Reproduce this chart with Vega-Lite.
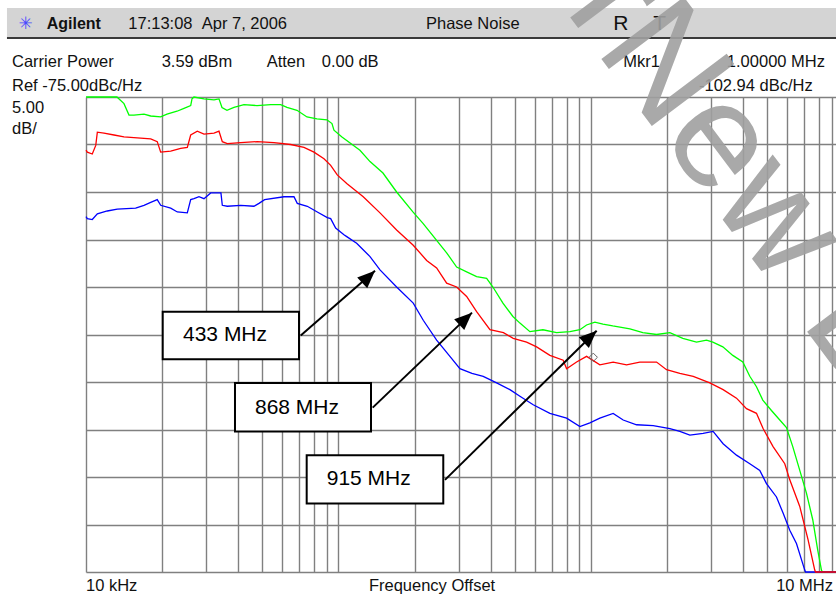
{
  "$schema": "https://vega.github.io/schema/vega-lite/v6.json",
  "width": 750,
  "height": 475,
  "autosize": {"type": "none"},
  "padding": {"left": 86, "top": 97, "right": 0, "bottom": 23},
  "background": "white",
  "config": {"view": {"stroke": null}, "font": "Liberation Sans"},
  "datasets": {
    "traces": [
      {"band": "915 MHz", "freq": 10000, "db": -75.0}, {"band": "915 MHz", "freq": 13260, "db": -75.0}, {"band": "915 MHz", "freq": 14140, "db": -75.7}, {"band": "915 MHz", "freq": 14800, "db": -76.9}, {"band": "915 MHz", "freq": 15490, "db": -76.9}, {"band": "915 MHz", "freq": 16970, "db": -76.8}, {"band": "915 MHz", "freq": 18040, "db": -77.0}, {"band": "915 MHz", "freq": 19760, "db": -77.1}, {"band": "915 MHz", "freq": 20930, "db": -76.8}, {"band": "915 MHz", "freq": 22930, "db": -76.5}, {"band": "915 MHz", "freq": 24440, "db": -76.2}, {"band": "915 MHz", "freq": 25980, "db": -75.9}, {"band": "915 MHz", "freq": 26290, "db": -75.2}, {"band": "915 MHz", "freq": 26770, "db": -75.0}, {"band": "915 MHz", "freq": 29330, "db": -75.2}, {"band": "915 MHz", "freq": 32130, "db": -75.3}, {"band": "915 MHz", "freq": 33630, "db": -75.2}, {"band": "915 MHz", "freq": 34560, "db": -76.1}, {"band": "915 MHz", "freq": 36170, "db": -76.4}, {"band": "915 MHz", "freq": 38550, "db": -76.1}, {"band": "915 MHz", "freq": 42230, "db": -75.8}, {"band": "915 MHz", "freq": 47560, "db": -75.9}, {"band": "915 MHz", "freq": 53890, "db": -75.8}, {"band": "915 MHz", "freq": 59020, "db": -75.8}, {"band": "915 MHz", "freq": 62510, "db": -76.1}, {"band": "915 MHz", "freq": 68480, "db": -76.4}, {"band": "915 MHz", "freq": 75020, "db": -77.1}, {"band": "915 MHz", "freq": 82180, "db": -77.3}, {"band": "915 MHz", "freq": 90020, "db": -77.4}, {"band": "915 MHz", "freq": 94220, "db": -77.8}, {"band": "915 MHz", "freq": 95950, "db": -78.5}, {"band": "915 MHz", "freq": 103200, "db": -79.2}, {"band": "915 MHz", "freq": 121600, "db": -80.6}, {"band": "915 MHz", "freq": 133300, "db": -81.8}, {"band": "915 MHz", "freq": 150000, "db": -83.0}, {"band": "915 MHz", "freq": 169900, "db": -85.0}, {"band": "915 MHz", "freq": 197100, "db": -87.1}, {"band": "915 MHz", "freq": 216100, "db": -88.3}, {"band": "915 MHz", "freq": 244700, "db": -90.1}, {"band": "915 MHz", "freq": 268100, "db": -91.4}, {"band": "915 MHz", "freq": 293700, "db": -92.9}, {"band": "915 MHz", "freq": 321700, "db": -93.4}, {"band": "915 MHz", "freq": 352400, "db": -93.9}, {"band": "915 MHz", "freq": 386100, "db": -94.1}, {"band": "915 MHz", "freq": 408800, "db": -95.0}, {"band": "915 MHz", "freq": 447900, "db": -96.7}, {"band": "915 MHz", "freq": 490600, "db": -98.1}, {"band": "915 MHz", "freq": 523000, "db": -98.8}, {"band": "915 MHz", "freq": 572900, "db": -99.7}, {"band": "915 MHz", "freq": 645000, "db": -99.5}, {"band": "915 MHz", "freq": 730700, "db": -99.8}, {"band": "915 MHz", "freq": 824900, "db": -99.7}, {"band": "915 MHz", "freq": 903700, "db": -99.5}, {"band": "915 MHz", "freq": 960500, "db": -99.0}, {"band": "915 MHz", "freq": 1036000, "db": -98.7}, {"band": "915 MHz", "freq": 1115000, "db": -98.9}, {"band": "915 MHz", "freq": 1220000, "db": -99.1}, {"band": "915 MHz", "freq": 1426000, "db": -99.4}, {"band": "915 MHz", "freq": 1604000, "db": -99.8}, {"band": "915 MHz", "freq": 1818000, "db": -100.0}, {"band": "915 MHz", "freq": 2053000, "db": -99.8}, {"band": "915 MHz", "freq": 2310000, "db": -100.4}, {"band": "915 MHz", "freq": 2618000, "db": -100.8}, {"band": "915 MHz", "freq": 2868000, "db": -100.6}, {"band": "915 MHz", "freq": 3037000, "db": -100.8}, {"band": "915 MHz", "freq": 3327000, "db": -101.3}, {"band": "915 MHz", "freq": 3644000, "db": -102.2}, {"band": "915 MHz", "freq": 3992000, "db": -102.9}, {"band": "915 MHz", "freq": 4255000, "db": -104.4}, {"band": "915 MHz", "freq": 4522000, "db": -105.5}, {"band": "915 MHz", "freq": 4790000, "db": -106.9}, {"band": "915 MHz", "freq": 5184000, "db": -108.0}, {"band": "915 MHz", "freq": 5593000, "db": -109.0}, {"band": "915 MHz", "freq": 5945000, "db": -109.8}, {"band": "915 MHz", "freq": 6296000, "db": -111.8}, {"band": "915 MHz", "freq": 6711000, "db": -114.3}, {"band": "915 MHz", "freq": 7133000, "db": -116.7}, {"band": "915 MHz", "freq": 7555000, "db": -119.5}, {"band": "915 MHz", "freq": 7906000, "db": -122.7}, {"band": "915 MHz", "freq": 8178000, "db": -124.8}, {"band": "915 MHz", "freq": 8250000, "db": -125.0}, {"band": "915 MHz", "freq": 10000000, "db": -125.0},
      {"band": "868 MHz", "freq": 10000, "db": -80.6}, {"band": "868 MHz", "freq": 10120, "db": -80.8}, {"band": "868 MHz", "freq": 10590, "db": -81.0}, {"band": "868 MHz", "freq": 10930, "db": -80.1}, {"band": "868 MHz", "freq": 11090, "db": -78.7}, {"band": "868 MHz", "freq": 11780, "db": -78.8}, {"band": "868 MHz", "freq": 12910, "db": -79.0}, {"band": "868 MHz", "freq": 14140, "db": -79.2}, {"band": "868 MHz", "freq": 15960, "db": -79.3}, {"band": "868 MHz", "freq": 18040, "db": -79.4}, {"band": "868 MHz", "freq": 19150, "db": -79.7}, {"band": "868 MHz", "freq": 19760, "db": -80.8}, {"band": "868 MHz", "freq": 21650, "db": -80.7}, {"band": "868 MHz", "freq": 23710, "db": -80.4}, {"band": "868 MHz", "freq": 25190, "db": -80.3}, {"band": "868 MHz", "freq": 25980, "db": -79.0}, {"band": "868 MHz", "freq": 27590, "db": -78.6}, {"band": "868 MHz", "freq": 29330, "db": -78.9}, {"band": "868 MHz", "freq": 32130, "db": -78.8}, {"band": "868 MHz", "freq": 33630, "db": -78.6}, {"band": "868 MHz", "freq": 34660, "db": -79.7}, {"band": "868 MHz", "freq": 36270, "db": -79.9}, {"band": "868 MHz", "freq": 40980, "db": -79.8}, {"band": "868 MHz", "freq": 47680, "db": -79.7}, {"band": "868 MHz", "freq": 55520, "db": -79.8}, {"band": "868 MHz", "freq": 64660, "db": -80.0}, {"band": "868 MHz", "freq": 72990, "db": -80.3}, {"band": "868 MHz", "freq": 79960, "db": -80.8}, {"band": "868 MHz", "freq": 87600, "db": -81.5}, {"band": "868 MHz", "freq": 93110, "db": -82.2}, {"band": "868 MHz", "freq": 98880, "db": -83.2}, {"band": "868 MHz", "freq": 107800, "db": -84.1}, {"band": "868 MHz", "freq": 125300, "db": -85.5}, {"band": "868 MHz", "freq": 146000, "db": -87.2}, {"band": "868 MHz", "freq": 169900, "db": -89.0}, {"band": "868 MHz", "freq": 197700, "db": -90.6}, {"band": "868 MHz", "freq": 223400, "db": -92.2}, {"band": "868 MHz", "freq": 244700, "db": -93.0}, {"band": "868 MHz", "freq": 268100, "db": -94.6}, {"band": "868 MHz", "freq": 293700, "db": -95.0}, {"band": "868 MHz", "freq": 321700, "db": -96.0}, {"band": "868 MHz", "freq": 352400, "db": -97.6}, {"band": "868 MHz", "freq": 397900, "db": -99.5}, {"band": "868 MHz", "freq": 450000, "db": -99.8}, {"band": "868 MHz", "freq": 491900, "db": -100.4}, {"band": "868 MHz", "freq": 555900, "db": -100.8}, {"band": "868 MHz", "freq": 609000, "db": -101.3}, {"band": "868 MHz", "freq": 687400, "db": -102.2}, {"band": "868 MHz", "freq": 776000, "db": -102.7}, {"band": "868 MHz", "freq": 800500, "db": -103.6}, {"band": "868 MHz", "freq": 876800, "db": -102.9}, {"band": "868 MHz", "freq": 960500, "db": -102.3}, {"band": "868 MHz", "freq": 1084000, "db": -103.2}, {"band": "868 MHz", "freq": 1224000, "db": -102.9}, {"band": "868 MHz", "freq": 1383000, "db": -103.2}, {"band": "868 MHz", "freq": 1561000, "db": -102.9}, {"band": "868 MHz", "freq": 1818000, "db": -102.9}, {"band": "868 MHz", "freq": 1992000, "db": -103.7}, {"band": "868 MHz", "freq": 2248000, "db": -104.1}, {"band": "868 MHz", "freq": 2540000, "db": -104.4}, {"band": "868 MHz", "freq": 2955000, "db": -105.1}, {"band": "868 MHz", "freq": 3336000, "db": -105.8}, {"band": "868 MHz", "freq": 3769000, "db": -106.7}, {"band": "868 MHz", "freq": 4129000, "db": -107.8}, {"band": "868 MHz", "freq": 4522000, "db": -108.3}, {"band": "868 MHz", "freq": 4803000, "db": -109.9}, {"band": "868 MHz", "freq": 5261000, "db": -111.8}, {"band": "868 MHz", "freq": 5853000, "db": -113.6}, {"band": "868 MHz", "freq": 6127000, "db": -115.3}, {"band": "868 MHz", "freq": 6711000, "db": -118.1}, {"band": "868 MHz", "freq": 7237000, "db": -121.6}, {"band": "868 MHz", "freq": 7693000, "db": -124.8}, {"band": "868 MHz", "freq": 7750000, "db": -125.0}, {"band": "868 MHz", "freq": 10000000, "db": -125.0},
      {"band": "433 MHz", "freq": 10000, "db": -87.6}, {"band": "433 MHz", "freq": 10120, "db": -87.8}, {"band": "433 MHz", "freq": 10590, "db": -87.9}, {"band": "433 MHz", "freq": 11090, "db": -87.3}, {"band": "433 MHz", "freq": 12140, "db": -87.0}, {"band": "433 MHz", "freq": 13300, "db": -86.8}, {"band": "433 MHz", "freq": 15730, "db": -86.7}, {"band": "433 MHz", "freq": 16970, "db": -86.4}, {"band": "433 MHz", "freq": 18040, "db": -86.1}, {"band": "433 MHz", "freq": 19150, "db": -85.8}, {"band": "433 MHz", "freq": 19760, "db": -86.4}, {"band": "433 MHz", "freq": 21650, "db": -86.7}, {"band": "433 MHz", "freq": 23000, "db": -87.1}, {"band": "433 MHz", "freq": 25190, "db": -87.2}, {"band": "433 MHz", "freq": 25980, "db": -85.8}, {"band": "433 MHz", "freq": 26770, "db": -85.7}, {"band": "433 MHz", "freq": 28020, "db": -85.5}, {"band": "433 MHz", "freq": 29330, "db": -85.7}, {"band": "433 MHz", "freq": 31180, "db": -85.1}, {"band": "433 MHz", "freq": 34230, "db": -85.1}, {"band": "433 MHz", "freq": 34660, "db": -86.4}, {"band": "433 MHz", "freq": 36270, "db": -86.5}, {"band": "433 MHz", "freq": 40980, "db": -86.4}, {"band": "433 MHz", "freq": 46270, "db": -86.5}, {"band": "433 MHz", "freq": 48420, "db": -86.2}, {"band": "433 MHz", "freq": 50990, "db": -85.8}, {"band": "433 MHz", "freq": 60820, "db": -85.5}, {"band": "433 MHz", "freq": 66630, "db": -85.5}, {"band": "433 MHz", "freq": 68680, "db": -86.2}, {"band": "433 MHz", "freq": 75240, "db": -86.5}, {"band": "433 MHz", "freq": 82420, "db": -87.1}, {"band": "433 MHz", "freq": 90290, "db": -87.7}, {"band": "433 MHz", "freq": 93110, "db": -87.8}, {"band": "433 MHz", "freq": 97450, "db": -88.8}, {"band": "433 MHz", "freq": 105100, "db": -89.5}, {"band": "433 MHz", "freq": 107800, "db": -89.7}, {"band": "433 MHz", "freq": 118000, "db": -90.4}, {"band": "433 MHz", "freq": 133300, "db": -91.8}, {"band": "433 MHz", "freq": 146000, "db": -93.2}, {"band": "433 MHz", "freq": 169900, "db": -95.0}, {"band": "433 MHz", "freq": 197700, "db": -96.7}, {"band": "433 MHz", "freq": 216600, "db": -98.5}, {"band": "433 MHz", "freq": 244700, "db": -100.6}, {"band": "433 MHz", "freq": 276200, "db": -102.3}, {"band": "433 MHz", "freq": 302600, "db": -103.6}, {"band": "433 MHz", "freq": 337700, "db": -104.1}, {"band": "433 MHz", "freq": 374200, "db": -104.4}, {"band": "433 MHz", "freq": 422900, "db": -105.1}, {"band": "433 MHz", "freq": 477400, "db": -105.8}, {"band": "433 MHz", "freq": 523000, "db": -106.5}, {"band": "433 MHz", "freq": 590400, "db": -107.4}, {"band": "433 MHz", "freq": 687400, "db": -108.3}, {"band": "433 MHz", "freq": 800500, "db": -108.8}, {"band": "433 MHz", "freq": 903700, "db": -109.7}, {"band": "433 MHz", "freq": 989800, "db": -109.3}, {"band": "433 MHz", "freq": 1084000, "db": -108.8}, {"band": "433 MHz", "freq": 1224000, "db": -108.3}, {"band": "433 MHz", "freq": 1341000, "db": -109.0}, {"band": "433 MHz", "freq": 1515000, "db": -109.5}, {"band": "433 MHz", "freq": 1763000, "db": -109.6}, {"band": "433 MHz", "freq": 2053000, "db": -109.9}, {"band": "433 MHz", "freq": 2248000, "db": -110.2}, {"band": "433 MHz", "freq": 2463000, "db": -110.6}, {"band": "433 MHz", "freq": 2780000, "db": -110.4}, {"band": "433 MHz", "freq": 3045000, "db": -110.2}, {"band": "433 MHz", "freq": 3336000, "db": -111.5}, {"band": "433 MHz", "freq": 3769000, "db": -112.7}, {"band": "433 MHz", "freq": 4255000, "db": -113.6}, {"band": "433 MHz", "freq": 4661000, "db": -114.3}, {"band": "433 MHz", "freq": 4954000, "db": -115.7}, {"band": "433 MHz", "freq": 5427000, "db": -117.1}, {"band": "433 MHz", "freq": 5764000, "db": -118.8}, {"band": "433 MHz", "freq": 6127000, "db": -120.6}, {"band": "433 MHz", "freq": 6512000, "db": -122.0}, {"band": "433 MHz", "freq": 7023000, "db": -124.8}, {"band": "433 MHz", "freq": 7080000, "db": -125.0}, {"band": "433 MHz", "freq": 10000000, "db": -125.0}
    ],
    "header_bar": [{"freq": 4864, "freq2": 9339000, "db": -65.63, "db2": -68.79}],
    "header_rule": [{"freq": 4864, "freq2": 9339000, "db": -68.79}],
    "brand": [{"text": "Agilent", "freq": 6990, "db": -67.79}],
    "notes_left": [
      {"text": "17:13:08\u00a0\u00a0Apr 7, 2006", "freq": 14710, "db": -67.79},
      {"text": "Phase Noise", "freq": 222100, "db": -67.79},
      {"text": "Carrier Power", "freq": 5092, "db": -71.84},
      {"text": "3.59 dBm", "freq": 19940, "db": -71.84},
      {"text": "Atten", "freq": 51950, "db": -71.84},
      {"text": "0.00 dB", "freq": 85810, "db": -71.84},
      {"text": "Mkr1", "freq": 1343000, "db": -71.84},
      {"text": "Ref -75.00dBc/Hz", "freq": 5092, "db": -74.37},
      {"text": "5.00", "freq": 5092, "db": -76.68},
      {"text": "dB/", "freq": 5092, "db": -78.89},
      {"text": "10 kHz", "freq": 10000, "db": -127.0}
    ],
    "notes_right": [
      {"text": "1.00000 MHz", "freq": 8448000, "db": -71.84},
      {"text": "-102.94 dBc/Hz", "freq": 7551000, "db": -74.37},
      {"text": "10 MHz", "freq": 9087000, "db": -127.0}
    ],
    "notes_center": [{"text": "Frequency Offset", "freq": 234600, "db": -127.0}],
    "status": [{"text": "R", "freq": 1226000, "db": -67.95}, {"text": "T", "freq": 1765000, "db": -67.95}],
    "logo": [{"text": "\u2733", "freq": 5761, "db": -67.84}],
    "callout_boxes": [
      {"band": "433 MHz", "freq": 20130, "freq2": 69760, "db": -97.6, "db2": -102.6},
      {"band": "868 MHz", "freq": 38910, "freq2": 134500, "db": -105.1, "db2": -110.2},
      {"band": "915 MHz", "freq": 74820, "freq2": 260000, "db": -112.7, "db2": -117.8}
    ],
    "callout_labels": [
      {"text": "433 MHz", "freq": 24220, "db": -100.1},
      {"text": "868 MHz", "freq": 46700, "db": -107.7},
      {"text": "915 MHz", "freq": 89820, "db": -115.2}
    ],
    "arrows": [
      {"band": "433 MHz", "freq": 70840, "db": -100.1, "freq2": 139500, "db2": -93.3},
      {"band": "868 MHz", "freq": 136600, "db": -107.7, "freq2": 337900, "db2": -97.7},
      {"band": "915 MHz", "freq": 264100, "db": -115.3, "freq2": 1053000, "db2": -99.6}
    ],
    "arrow_tips": [
      {"band": "433 MHz", "freq": 139500, "db": -93.3},
      {"band": "868 MHz", "freq": 337900, "db": -97.7},
      {"band": "915 MHz", "freq": 1053000, "db": -99.6}
    ],
    "marker": [{"name": "Mkr1", "freq": 1021000, "db": -102.4}],
    "watermark_tail": [{"text": "New Designs", "freq": 1427000, "db": -67.11}],
    "watermark_head": [{"text": "Not Recommended for\u00a0", "freq": 1427000, "db": -67.11}]
  },
  "encoding": {
    "x": {
      "field": "freq", "type": "quantitative",
      "scale": {"type": "log", "domain": [10000, 9339000], "nice": false},
      "axis": {"values": [10000, 20000, 30000, 40000, 50000, 60000, 70000, 80000, 90000, 100000, 200000, 300000, 400000, 500000, 600000, 700000, 800000, 900000, 1000000, 2000000, 3000000, 4000000, 5000000, 6000000, 7000000, 8000000, 9000000],
        "grid": true, "labels": false, "ticks": false, "domain": false, "title": null, "gridColor": "#808080", "gridWidth": 1.4, "gridOpacity": 1}
    },
    "y": {
      "field": "db", "type": "quantitative",
      "scale": {"domain": [-125, -75], "nice": false, "zero": false},
      "axis": {"values": [-125, -120, -115, -110, -105, -100, -95, -90, -85, -80, -75],
        "grid": true, "labels": false, "ticks": false, "domain": false, "title": null, "gridColor": "#808080", "gridWidth": 1.4, "gridOpacity": 1}
    }
  },
  "layer": [
    {"data": {"name": "header_bar"}, "mark": {"type": "rect", "fill": "#d4d4d4", "stroke": null}, "encoding": {"x2": {"field": "freq2"}, "y2": {"field": "db2"}}},
    {"data": {"name": "header_rule"}, "mark": {"type": "rule", "color": "#3a3a3a", "strokeWidth": 2}, "encoding": {"x2": {"field": "freq2"}}},
    {"data": {"name": "traces"}, "transform": [{"filter": "datum.band === '915 MHz'"}], "mark": {"type": "line", "color": "#00ff00", "strokeWidth": 1.3, "clip": false, "interpolate": "linear"}, "encoding": {}},
    {"data": {"name": "traces"}, "transform": [{"filter": "datum.band === '433 MHz'"}], "mark": {"type": "line", "color": "#0000ff", "strokeWidth": 1.3, "clip": false}, "encoding": {}},
    {"data": {"name": "traces"}, "transform": [{"filter": "datum.band === '868 MHz'"}], "mark": {"type": "line", "color": "#ff0000", "strokeWidth": 1.3, "clip": false}, "encoding": {}},
    {"data": {"name": "marker"}, "mark": {"type": "point", "shape": "diamond", "filled": false, "stroke": "#666666", "strokeWidth": 1, "size": 70, "opacity": 1}, "encoding": {}},
    {"data": {"name": "callout_boxes"}, "mark": {"type": "rect", "fill": "white", "stroke": "black", "strokeWidth": 2}, "encoding": {"x2": {"field": "freq2"}, "y2": {"field": "db2"}}},
    {"data": {"name": "callout_labels"}, "mark": {"type": "text", "align": "left", "baseline": "middle", "fontSize": 21, "font": "Liberation Sans", "color": "black"}, "encoding": {"text": {"field": "text"}}},
    {"data": {"name": "arrows"}, "mark": {"type": "rule", "color": "black", "strokeWidth": 2}, "encoding": {"x2": {"field": "freq2"}, "y2": {"field": "db2"}}},
    {"data": {"name": "arrow_tips"}, "mark": {"type": "point", "shape": "M0,0L-0.42,1L0.42,1Z", "filled": true, "color": "black", "opacity": 1, "size": 1225, "angle": 47, "strokeWidth": 0}, "encoding": {}},
    {"data": {"name": "brand"}, "mark": {"type": "text", "align": "left", "baseline": "alphabetic", "fontSize": 16, "fontWeight": "bold", "font": "Liberation Sans", "color": "#111111"}, "encoding": {"text": {"field": "text"}}},
    {"data": {"name": "notes_left"}, "mark": {"type": "text", "align": "left", "baseline": "alphabetic", "fontSize": 16.5, "font": "Liberation Sans", "color": "#111111"}, "encoding": {"text": {"field": "text"}}},
    {"data": {"name": "notes_right"}, "mark": {"type": "text", "align": "right", "baseline": "alphabetic", "fontSize": 16.5, "font": "Liberation Sans", "color": "#111111"}, "encoding": {"text": {"field": "text"}}},
    {"data": {"name": "notes_center"}, "mark": {"type": "text", "align": "center", "baseline": "alphabetic", "fontSize": 16.5, "font": "Liberation Sans", "color": "#111111"}, "encoding": {"text": {"field": "text"}}},
    {"data": {"name": "status"}, "mark": {"type": "text", "align": "left", "baseline": "alphabetic", "fontSize": 21, "font": "Liberation Sans", "color": "#111111"}, "encoding": {"text": {"field": "text"}}},
    {"data": {"name": "logo"}, "mark": {"type": "text", "align": "center", "baseline": "alphabetic", "fontSize": 17, "font": "DejaVu Sans", "color": "#4a4aff"}, "encoding": {"text": {"field": "text"}}},
    {"data": {"name": "watermark_tail"}, "mark": {"type": "text", "align": "left", "baseline": "middle", "fontSize": 150, "font": "Liberation Sans", "color": "#a0a0a0", "opacity": 0.9, "angle": 53}, "encoding": {"text": {"field": "text"}}},
    {"data": {"name": "watermark_head"}, "mark": {"type": "text", "align": "right", "baseline": "middle", "fontSize": 150, "font": "Liberation Sans", "color": "#a0a0a0", "opacity": 0.9, "angle": 53}, "encoding": {"text": {"field": "text"}}}
  ]
}
